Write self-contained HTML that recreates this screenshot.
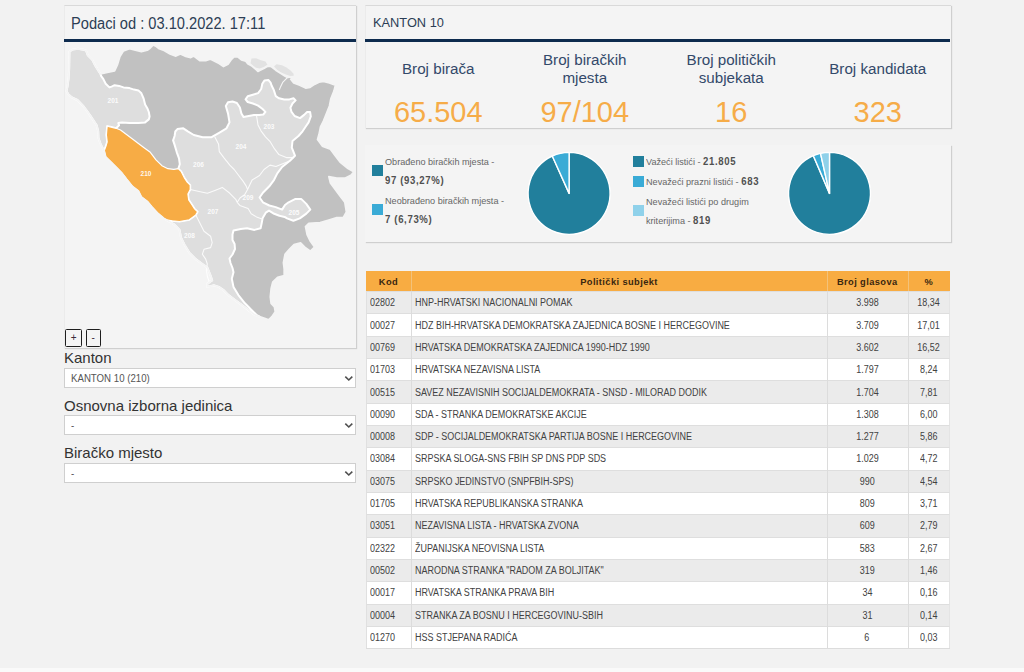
<!DOCTYPE html>
<html><head><meta charset="utf-8">
<style>
*{box-sizing:border-box}
html,body{margin:0;padding:0}
body{width:1024px;height:672px;background:#f2f2f2;position:relative;overflow:hidden;font-family:"Liberation Sans",sans-serif}
.panel{position:absolute;background:#f4f4f4;border-top:1px solid #d9d9d9;border-left:1px solid #ebebeb;box-shadow:1px 1px 1px #cfcfcf}
.abs{position:absolute;white-space:nowrap}
.hline{position:absolute;height:3px;background:#0d2b4e}
.th{position:absolute;background:#f8ac42}
.tht{position:absolute;text-align:center;font-weight:bold;font-size:9.3px;letter-spacing:0.4px;color:#3a2710}
.tr{position:absolute;left:365.5px;width:584.5px;border-top:1px solid #dedede;border-left:1px solid #e0e0e0;border-right:1px solid #e4e4e4}
.td{position:absolute;white-space:nowrap;font-size:10px;color:#424242}
.td span{display:inline-block;transform:scaleX(0.897);transform-origin:0 50%}
.tc span{transform-origin:50% 50%}
.vl{position:absolute;width:1px;background:#dcdcdc}
.lbl{position:absolute;font-size:15px;color:#333;white-space:nowrap}
.sel{position:absolute;left:64px;width:292px;height:20.3px;background:#fff;border:1px solid #cfcfcf}
.sel span{position:absolute;left:6px;top:3.9px;font-size:10.4px;color:#555;transform:scaleX(0.93);transform-origin:0 0}
.chev{position:absolute;right:2.5px;top:5.5px;width:9px;height:7px}
.btn{position:absolute;top:329.2px;width:16.8px;height:17.4px;border:1.6px solid #1e1e1e;border-radius:1.5px;background:#f4f4f4;font-size:10px;text-align:center;line-height:16px;color:#3a2a3a}
.st{position:absolute;width:146.5px;text-align:center;color:#33496a;font-size:15.2px;line-height:18px}
.sv{position:absolute;width:146.5px;text-align:center;color:#f6ac48;font-size:29px}
.lg{position:absolute;font-size:9.8px;color:#666;white-space:nowrap;transform:scaleX(0.93);transform-origin:0 0}
.lg b{color:#505050;letter-spacing:0.7px;font-size:10.3px}
.sq{position:absolute;width:11px;height:11px}
</style></head><body>
<div class="panel" style="left:64px;top:5px;width:292px;height:342.5px"></div>
<div class="abs" style="left:71.3px;top:14.5px;font-size:16px;color:#2c3e55;transform:scaleX(0.915);transform-origin:0 0">Podaci od : 03.10.2022. 17:11</div>
<div class="hline" style="left:64px;top:39px;width:292px"></div>
<svg style="position:absolute;left:0;top:0" width="1024" height="672" viewBox="0 0 1024 672"><polygon points="69.5,51.5 73.0,49.5 78.0,48.8 83.5,49.8 86.0,50.5 87.8,55.4 92.3,59.9 95.3,65.8 99.0,71.8 100.5,74.0 107.2,72.5 114.6,71.0 117.6,64.3 119.8,56.9 123.5,50.9 129.5,48.7 135.4,50.2 141.4,51.7 147.3,50.2 150.3,48.0 153.3,45.0 156.3,46.5 159.2,48.7 164.0,50.5 170.0,53.9 175.9,56.1 180.4,53.9 184.8,56.1 190.8,57.6 193.8,56.1 199.7,60.6 205.7,60.6 210.1,59.1 214.6,61.3 219.1,63.6 223.5,66.6 228.0,64.3 231.0,59.9 234.0,56.9 237.7,56.9 241.4,59.9 245.8,61.3 247.7,63.7 251.9,66.1 256.1,69.6 257.9,71.4 260.2,70.2 263.8,68.5 266.8,66.7 269.8,66.1 272.1,67.3 275.7,70.2 280.5,73.2 285.2,76.2 287.6,77.4 291.2,76.8 293.6,77.2 290.7,79.2 293.7,82.9 299.7,85.2 305.6,88.1 310.1,87.4 314.5,84.4 319.0,82.2 323.5,81.4 329.4,82.9 335.4,85.2 333.9,91.1 330.9,98.5 329.4,106.0 326.5,113.4 323.5,120.9 320.5,126.8 319.0,134.3 317.5,139.6 322.3,146.1 330.4,149.3 335.2,155.7 340.0,162.1 348.0,168.6 353.7,171.8 351.3,175.0 344.8,178.2 336.8,178.2 328.8,176.6 330.4,183.0 335.2,189.5 340.0,195.9 344.8,202.3 346.4,212.0 343.2,217.6 336.8,217.6 328.8,220.0 320.2,222.5 308.8,223.3 305.5,226.5 307.1,234.7 310.4,241.3 314.5,247.0 310.4,251.1 305.5,247.8 300.6,242.9 294.0,244.6 289.1,249.5 285.0,254.4 283.4,262.6 284.2,269.1 284.2,275.7 277.6,277.3 272.7,282.2 271.1,288.8 270.3,296.9 271.1,303.5 274.4,306.8 275.2,311.7 271.9,316.6 268.6,319.9 264.6,318.2 259.6,316.6 254.7,314.9 248.2,309.9 241.7,304.9 235.1,300.0 228.6,295.1 223.7,290.2 218.8,286.9 213.8,285.3 207.3,286.9 207.3,283.7 212.2,280.4 210.6,275.5 207.3,267.3 202.4,264.0 195.8,259.1 189.3,252.6 184.4,244.4 181.1,237.8 179.5,229.6 174.6,224.7 166.4,219.8 164.0,218.5 158.0,213.5 152.0,207.0 147.3,201.4 141.4,197.0 138.4,191.0 132.5,186.5 126.5,179.1 122.0,173.2 117.6,168.7 111.6,162.7 105.7,156.8 104.2,150.8 101.0,145.0 98.5,138.0 98.2,131.3 96.7,125.3 93.8,120.9 90.8,116.4 87.8,112.0 83.3,106.0 77.5,100.0 72.0,97.5 68.5,94.5 66.5,91.1 67.5,86.6 68.5,79.2 69.2,68.8 69.3,61.0" fill="#c1c1c1"/><polygon points="250.5,63.2 251.5,58.6 256.0,58.3 261.0,60.2 265.5,61.5 267.4,64.8 263.8,67.0 259.5,68.5 256.0,67.8 253.0,65.6" fill="#e2e2e2"/><polygon points="274.0,66.5 276.5,64.3 282.0,65.2 286.5,67.6 290.5,70.5 293.6,73.8 293.6,75.8 290.5,76.0 286.0,74.6 281.0,72.4 277.0,69.8" fill="#e2e2e2"/><polygon points="69.5,51.5 73.0,49.5 78.0,48.8 83.5,49.8 86.0,50.5 87.8,55.4 92.3,59.9 95.3,65.8 99.0,71.8 100.5,74.0 101.2,76.2 103.4,79.2 105.7,83.7 109.4,87.4 111.6,86.6 114.6,85.2 119.1,85.9 123.5,87.4 129.5,88.1 134.0,89.6 138.4,90.4 141.4,93.3 143.6,98.5 145.1,104.5 147.3,108.2 148.8,112.0 149.6,116.4 148.8,119.4 145.1,122.4 138.4,123.1 129.5,123.1 122.0,122.4 118.3,123.1 119.1,125.3 116.1,128.3 110.1,126.8 107.2,126.1 106.4,135.0 107.2,141.9 104.2,150.8 101.0,145.0 98.5,138.0 98.2,131.3 96.7,125.3 93.8,120.9 90.8,116.4 87.8,112.0 83.3,106.0 77.5,100.0 72.0,97.5 68.5,94.5 66.5,91.1 67.5,86.6 68.5,79.2 69.2,68.8 69.3,61.0" fill="#dedede" stroke="#fff" stroke-width="2" stroke-linejoin="round"/><polygon points="178.3,168.7 179.8,164.2 179.0,158.3 176.8,152.3 174.6,144.9 173.1,140.4 174.6,136.0 175.3,131.5 177.4,129.1 183.3,128.3 187.8,131.3 193.8,135.0 202.7,137.2 211.6,137.2 219.1,132.8 226.5,128.3 229.5,122.4 228.0,113.4 225.8,106.0 228.0,102.3 232.5,101.5 236.9,103.0 239.9,107.5 241.4,113.4 243.5,117.1 248.8,116.0 254.0,115.0 259.2,115.0 263.3,114.5 265.4,111.9 262.3,108.8 258.1,105.6 252.9,103.5 247.7,102.0 245.6,99.4 247.7,96.2 252.9,94.7 258.1,93.1 261.2,89.0 262.3,83.8 264.4,80.6 268.5,80.1 270.6,82.7 271.7,85.8 273.8,90.0 274.8,93.1 275.8,96.2 279.0,98.3 284.2,99.4 289.4,99.4 293.5,98.3 295.6,100.4 292.5,103.5 290.4,107.7 291.5,111.9 294.6,116.0 300.0,118.1 304.1,114.9 307.1,112.0 310.1,112.0 310.8,116.4 308.6,122.4 305.6,126.8 302.6,131.3 298.5,136.0 292.5,141.0 291.8,147.7 295.0,155.7 290.2,160.5 282.1,167.0 277.3,173.4 274.1,179.8 269.3,186.3 262.9,192.7 259.6,197.5 262.9,202.3 269.3,205.5 275.7,207.1 282.1,209.6 285.0,205.0 288.6,202.3 295.0,199.1 301.4,199.1 306.3,203.9 310.3,209.6 306.3,213.6 299.8,218.4 293.4,220.8 287.0,218.4 284.6,216.9 279.4,215.8 274.2,213.8 269.0,210.6 265.8,212.7 262.7,217.9 261.7,223.1 260.6,228.3 254.4,229.9 247.1,228.3 240.8,228.9 233.5,230.4 232.5,234.6 232.5,240.0 234.6,244.0 235.0,249.0 232.5,254.5 229.5,258.5 230.5,263.0 232.5,268.0 233.5,272.2 231.8,278.8 233.5,286.9 238.4,295.1 244.9,303.3 251.5,309.9 256.4,314.8 259.6,316.6 254.7,314.9 248.2,309.9 241.7,304.9 235.1,300.0 228.6,295.1 223.7,290.2 218.8,286.9 213.8,285.3 207.3,286.9 207.3,283.7 212.2,280.4 210.6,275.5 207.3,267.3 202.4,264.0 195.8,259.1 189.3,252.6 184.4,244.4 181.1,237.8 179.5,229.6 174.6,224.7 166.4,219.8 172.3,220.8 179.5,221.5 189.3,219.8 195.8,214.9 197.6,211.8 194.6,208.9 191.7,204.4 188.7,199.9 187.9,194.0 190.2,189.5 190.2,185.1 187.2,182.1 184.2,177.6 181.3,171.7" fill="#dedede" stroke="#fff" stroke-width="2" stroke-linejoin="round"/><polyline points="214.6,136.5 218.6,144.2 219.3,151.7 223.8,157.6 229.8,165.1 234.2,169.5 238.7,175.5 243.2,181.4 246.1,185.9 247.6,189.5" fill="none" stroke="#fff" stroke-opacity="0.85" stroke-width="1.1" stroke-linejoin="round"/><polyline points="247.6,189.5 252.1,180.0 259.5,175.5 264.0,169.5 270.0,165.1 275.9,166.5 283.3,163.6 290.8,160.6" fill="none" stroke="#fff" stroke-opacity="0.85" stroke-width="1.1" stroke-linejoin="round"/><polyline points="256.5,115.5 258.0,124.9 261.0,130.8 265.5,136.8 269.9,141.3 274.4,148.7 278.9,154.6 286.3,157.6 293.8,157.6" fill="none" stroke="#fff" stroke-opacity="0.85" stroke-width="1.1" stroke-linejoin="round"/><polyline points="190.2,189.5 199.1,191.5 207.4,193.3 214.9,190.4 222.3,187.4 229.8,193.3 235.7,199.3 237.2,202.3 239.8,205.4 248.1,208.5 251.2,213.8 256.5,216.9 262.0,219.0" fill="none" stroke="#fff" stroke-opacity="0.85" stroke-width="1.1" stroke-linejoin="round"/><polyline points="247.6,189.5 244.6,194.8 240.2,197.8 237.2,202.3" fill="none" stroke="#fff" stroke-opacity="0.85" stroke-width="1.1" stroke-linejoin="round"/><polyline points="195.8,214.9 204.0,231.3 210.6,236.2 212.2,242.7 210.6,247.6 204.0,249.3 202.4,254.2 205.7,259.1 207.3,264.0 206.3,270.0 207.5,277.0 210.0,283.5" fill="none" stroke="#fff" stroke-opacity="0.85" stroke-width="1.1" stroke-linejoin="round"/><polyline points="287.6,77.4 282.9,82.1 280.5,86.9 279.3,90.0" fill="none" stroke="#fff" stroke-opacity="0.85" stroke-width="1.1" stroke-linejoin="round"/><polygon points="107.2,126.1 110.1,126.8 116.1,128.3 120.5,130.0 126.5,134.5 132.5,138.9 138.4,143.4 144.4,147.9 150.3,152.3 156.0,159.8 161.9,165.7 167.9,168.7 173.8,169.4 178.3,168.7 181.3,171.7 184.2,177.6 187.2,182.1 190.2,185.1 190.2,189.5 187.9,194.0 188.7,199.9 191.7,204.4 194.6,208.9 197.6,211.8 195.8,214.9 189.3,219.8 179.5,221.5 172.3,220.8 166.4,219.8 164.0,218.5 158.0,213.5 152.0,207.0 147.3,201.4 141.4,197.0 138.4,191.0 132.5,186.5 126.5,179.1 122.0,173.2 117.6,168.7 111.6,162.7 105.7,156.8 104.2,150.8 106.0,146.0 107.2,141.9 106.4,135.0 106.8,130.0" fill="#f7ac45" stroke="#fff" stroke-width="1.2" stroke-linejoin="round"/><polygon points="69.5,51.5 73.0,49.5 78.0,48.8 83.5,49.8 86.0,50.5 87.8,55.4 92.3,59.9 95.3,65.8 99.0,71.8 100.5,74.0 107.2,72.5 114.6,71.0 117.6,64.3 119.8,56.9 123.5,50.9 129.5,48.7 135.4,50.2 141.4,51.7 147.3,50.2 150.3,48.0 153.3,45.0 156.3,46.5 159.2,48.7 164.0,50.5 170.0,53.9 175.9,56.1 180.4,53.9 184.8,56.1 190.8,57.6 193.8,56.1 199.7,60.6 205.7,60.6 210.1,59.1 214.6,61.3 219.1,63.6 223.5,66.6 228.0,64.3 231.0,59.9 234.0,56.9 237.7,56.9 241.4,59.9 245.8,61.3 247.7,63.7 251.9,66.1 256.1,69.6 257.9,71.4 260.2,70.2 263.8,68.5 266.8,66.7 269.8,66.1 272.1,67.3 275.7,70.2 280.5,73.2 285.2,76.2 287.6,77.4 291.2,76.8 293.6,77.2 290.7,79.2 293.7,82.9 299.7,85.2 305.6,88.1 310.1,87.4 314.5,84.4 319.0,82.2 323.5,81.4 329.4,82.9 335.4,85.2 333.9,91.1 330.9,98.5 329.4,106.0 326.5,113.4 323.5,120.9 320.5,126.8 319.0,134.3 317.5,139.6 322.3,146.1 330.4,149.3 335.2,155.7 340.0,162.1 348.0,168.6 353.7,171.8 351.3,175.0 344.8,178.2 336.8,178.2 328.8,176.6 330.4,183.0 335.2,189.5 340.0,195.9 344.8,202.3 346.4,212.0 343.2,217.6 336.8,217.6 328.8,220.0 320.2,222.5 308.8,223.3 305.5,226.5 307.1,234.7 310.4,241.3 314.5,247.0 310.4,251.1 305.5,247.8 300.6,242.9 294.0,244.6 289.1,249.5 285.0,254.4 283.4,262.6 284.2,269.1 284.2,275.7 277.6,277.3 272.7,282.2 271.1,288.8 270.3,296.9 271.1,303.5 274.4,306.8 275.2,311.7 271.9,316.6 268.6,319.9 264.6,318.2 259.6,316.6 254.7,314.9 248.2,309.9 241.7,304.9 235.1,300.0 228.6,295.1 223.7,290.2 218.8,286.9 213.8,285.3 207.3,286.9 207.3,283.7 212.2,280.4 210.6,275.5 207.3,267.3 202.4,264.0 195.8,259.1 189.3,252.6 184.4,244.4 181.1,237.8 179.5,229.6 174.6,224.7 166.4,219.8 164.0,218.5 158.0,213.5 152.0,207.0 147.3,201.4 141.4,197.0 138.4,191.0 132.5,186.5 126.5,179.1 122.0,173.2 117.6,168.7 111.6,162.7 105.7,156.8 104.2,150.8 101.0,145.0 98.5,138.0 98.2,131.3 96.7,125.3 93.8,120.9 90.8,116.4 87.8,112.0 83.3,106.0 77.5,100.0 72.0,97.5 68.5,94.5 66.5,91.1 67.5,86.6 68.5,79.2 69.2,68.8 69.3,61.0" fill="none" stroke="#f4f4f4" stroke-width="1.7" stroke-linejoin="round"/><text x="113" y="102.8" text-anchor="middle" font-size="6.5" font-weight="bold" font-family="Liberation Sans" fill="#fff" fill-opacity="0.92">201</text><text x="146" y="175.8" text-anchor="middle" font-size="6.5" font-weight="bold" font-family="Liberation Sans" fill="#fff" fill-opacity="0.92">210</text><text x="198.5" y="166.8" text-anchor="middle" font-size="6.5" font-weight="bold" font-family="Liberation Sans" fill="#fff" fill-opacity="0.92">206</text><text x="241" y="148.8" text-anchor="middle" font-size="6.5" font-weight="bold" font-family="Liberation Sans" fill="#fff" fill-opacity="0.92">204</text><text x="269" y="128.8" text-anchor="middle" font-size="6.5" font-weight="bold" font-family="Liberation Sans" fill="#fff" fill-opacity="0.92">203</text><text x="248" y="200.3" text-anchor="middle" font-size="6.5" font-weight="bold" font-family="Liberation Sans" fill="#fff" fill-opacity="0.92">209</text><text x="294" y="215.3" text-anchor="middle" font-size="6.5" font-weight="bold" font-family="Liberation Sans" fill="#fff" fill-opacity="0.92">205</text><text x="213" y="214.3" text-anchor="middle" font-size="6.5" font-weight="bold" font-family="Liberation Sans" fill="#fff" fill-opacity="0.92">207</text><text x="189.5" y="238.3" text-anchor="middle" font-size="6.5" font-weight="bold" font-family="Liberation Sans" fill="#fff" fill-opacity="0.92">208</text></svg>
<div class="btn" style="left:65.3px;">+</div>
<div class="btn" style="left:85.5px;width:15.4px">-</div>

<div class="lbl" style="left:64px;top:349px">Kanton</div>
<div class="sel" style="top:368px"><span>KANTON 10 (210)</span><svg class="chev" viewBox="0 0 9 7"><path d="M1.3 1.6 L4.8 5 L8.3 1.6" fill="none" stroke="#505050" stroke-width="1.6"/></svg></div>
<div class="lbl" style="left:64px;top:397px">Osnovna izborna jedinica</div>
<div class="sel" style="top:415px"><span>-</span><svg class="chev" viewBox="0 0 9 7"><path d="M1.3 1.6 L4.8 5 L8.3 1.6" fill="none" stroke="#505050" stroke-width="1.6"/></svg></div>
<div class="lbl" style="left:64px;top:444.3px">Biračko mjesto</div>
<div class="sel" style="top:463px"><span>-</span><svg class="chev" viewBox="0 0 9 7"><path d="M1.3 1.6 L4.8 5 L8.3 1.6" fill="none" stroke="#505050" stroke-width="1.6"/></svg></div>

<div class="panel" style="left:365px;top:5px;width:586px;height:123px"></div>
<div class="abs" style="left:373px;top:15px;font-size:12.8px;color:#2c3e55">KANTON 10</div>
<div class="hline" style="left:365px;top:39px;width:585px"></div>
<div class="st" style="left:365px;top:60px">Broj birača</div>
<div class="st" style="left:511.5px;top:51px">Broj biračkih<br>mjesta</div>
<div class="st" style="left:658px;top:51px">Broj političkih<br>subjekata</div>
<div class="st" style="left:804.5px;top:60px">Broj kandidata</div>
<div class="sv" style="left:365px;top:96px">65.504</div>
<div class="sv" style="left:511.5px;top:96px">97/104</div>
<div class="sv" style="left:658px;top:96px">16</div>
<div class="sv" style="left:804.5px;top:96px">323</div>

<div class="panel" style="left:365px;top:145px;width:586px;height:97px;border-top:none;border-left:none"></div>
<div class="sq" style="left:372px;top:165px;background:#217f9c"></div>
<div class="lg" style="left:385px;top:155.8px">Obrađeno biračkih mjesta -</div>
<div class="lg" style="left:385px;top:174.5px"><b>97 (93,27%)</b></div>
<div class="sq" style="left:372px;top:204px;background:#3aabd6"></div>
<div class="lg" style="left:385px;top:194.8px">Neobrađeno biračkih mjesta -</div>
<div class="lg" style="left:385px;top:213.5px"><b>7 (6,73%)</b></div>
<svg style="position:absolute;left:0;top:0" width="1024" height="672"><path d="M569.1,193.4 L569.10,152.40 A41,41 0 1 1 552.27,156.01 Z" fill="#217f9c" stroke="#fff" stroke-width="1.4" stroke-linejoin="round"/><path d="M569.1,193.4 L552.27,156.01 A41,41 0 0 1 569.10,152.40 Z" fill="#3aabd6" stroke="#fff" stroke-width="1.4" stroke-linejoin="round"/><path d="M829.5,193.4 L829.50,152.40 A41,41 0 1 1 813.35,155.72 Z" fill="#217f9c" stroke="#fff" stroke-width="1.4" stroke-linejoin="round"/><path d="M829.5,193.4 L813.35,155.72 A41,41 0 0 1 820.52,153.40 Z" fill="#3aabd6" stroke="#fff" stroke-width="1.4" stroke-linejoin="round"/><path d="M829.5,193.4 L820.52,153.40 A41,41 0 0 1 829.50,152.40 Z" fill="#8fd1ea" stroke="#fff" stroke-width="1.4" stroke-linejoin="round"/></svg>
<div class="sq" style="left:632.5px;top:156px;background:#217f9c"></div>
<div class="lg" style="left:646px;top:155.8px">Važeći listići - <b>21.805</b></div>
<div class="sq" style="left:632.5px;top:176px;background:#3aabd6"></div>
<div class="lg" style="left:646px;top:176.3px">Nevažeći prazni listići - <b>683</b></div>
<div class="sq" style="left:632.5px;top:205px;background:#8fd1ea"></div>
<div class="lg" style="left:646px;top:195.8px">Nevažeći listići po drugim</div>
<div class="lg" style="left:646px;top:214.5px">kriterijima - <b>819</b></div>

<div class="th" style="left:366px;top:271px;width:584px;height:20px"></div>
<div class="tht" style="left:366px;top:272px;width:45px;height:20px;line-height:20px">Kod</div>
<div class="tht" style="left:411px;top:272px;width:416px;height:20px;line-height:20px">Politički subjekt</div>
<div class="tht" style="left:827px;top:272px;width:80.5px;height:20px;line-height:20px">Broj glasova</div>
<div class="tht" style="left:907.5px;top:272px;width:42.5px;height:20px;line-height:20px">%</div>
<div class="vl" style="left:411px;top:271px;height:20px;background:#f3c27a"></div>
<div class="vl" style="left:827px;top:271px;height:20px;background:#f3c27a"></div>
<div class="vl" style="left:907.5px;top:271px;height:20px;background:#f3c27a"></div>
<div class="tr" style="top:291.00px;height:22.33px;background:#ebebeb"></div>
<div class="td" style="left:369.8px;top:292.20px;height:22.33px;line-height:22.33px"><span>02802</span></div>
<div class="td" style="left:415px;top:292.20px;height:22.33px;line-height:22.33px"><span>HNP-HRVATSKI NACIONALNI POMAK</span></div>
<div class="td tc" style="left:827px;width:80.5px;text-align:center;top:292.20px;height:22.33px;line-height:22.33px"><span>3.998</span></div>
<div class="td tc" style="left:907.5px;width:42.5px;text-align:center;top:292.20px;height:22.33px;line-height:22.33px"><span>18,34</span></div>
<div class="tr" style="top:313.32px;height:22.33px;background:#ffffff"></div>
<div class="td" style="left:369.8px;top:314.52px;height:22.33px;line-height:22.33px"><span>00027</span></div>
<div class="td" style="left:415px;top:314.52px;height:22.33px;line-height:22.33px"><span>HDZ BIH-HRVATSKA DEMOKRATSKA ZAJEDNICA BOSNE I HERCEGOVINE</span></div>
<div class="td tc" style="left:827px;width:80.5px;text-align:center;top:314.52px;height:22.33px;line-height:22.33px"><span>3.709</span></div>
<div class="td tc" style="left:907.5px;width:42.5px;text-align:center;top:314.52px;height:22.33px;line-height:22.33px"><span>17,01</span></div>
<div class="tr" style="top:335.65px;height:22.33px;background:#ebebeb"></div>
<div class="td" style="left:369.8px;top:336.85px;height:22.33px;line-height:22.33px"><span>00769</span></div>
<div class="td" style="left:415px;top:336.85px;height:22.33px;line-height:22.33px"><span>HRVATSKA DEMOKRATSKA ZAJEDNICA 1990-HDZ 1990</span></div>
<div class="td tc" style="left:827px;width:80.5px;text-align:center;top:336.85px;height:22.33px;line-height:22.33px"><span>3.602</span></div>
<div class="td tc" style="left:907.5px;width:42.5px;text-align:center;top:336.85px;height:22.33px;line-height:22.33px"><span>16,52</span></div>
<div class="tr" style="top:357.98px;height:22.33px;background:#ffffff"></div>
<div class="td" style="left:369.8px;top:359.18px;height:22.33px;line-height:22.33px"><span>01703</span></div>
<div class="td" style="left:415px;top:359.18px;height:22.33px;line-height:22.33px"><span>HRVATSKA NEZAVISNA LISTA</span></div>
<div class="td tc" style="left:827px;width:80.5px;text-align:center;top:359.18px;height:22.33px;line-height:22.33px"><span>1.797</span></div>
<div class="td tc" style="left:907.5px;width:42.5px;text-align:center;top:359.18px;height:22.33px;line-height:22.33px"><span>8,24</span></div>
<div class="tr" style="top:380.30px;height:22.33px;background:#ebebeb"></div>
<div class="td" style="left:369.8px;top:381.50px;height:22.33px;line-height:22.33px"><span>00515</span></div>
<div class="td" style="left:415px;top:381.50px;height:22.33px;line-height:22.33px"><span>SAVEZ NEZAVISNIH SOCIJALDEMOKRATA - SNSD - MILORAD DODIK</span></div>
<div class="td tc" style="left:827px;width:80.5px;text-align:center;top:381.50px;height:22.33px;line-height:22.33px"><span>1.704</span></div>
<div class="td tc" style="left:907.5px;width:42.5px;text-align:center;top:381.50px;height:22.33px;line-height:22.33px"><span>7,81</span></div>
<div class="tr" style="top:402.62px;height:22.33px;background:#ffffff"></div>
<div class="td" style="left:369.8px;top:403.82px;height:22.33px;line-height:22.33px"><span>00090</span></div>
<div class="td" style="left:415px;top:403.82px;height:22.33px;line-height:22.33px"><span>SDA - STRANKA DEMOKRATSKE AKCIJE</span></div>
<div class="td tc" style="left:827px;width:80.5px;text-align:center;top:403.82px;height:22.33px;line-height:22.33px"><span>1.308</span></div>
<div class="td tc" style="left:907.5px;width:42.5px;text-align:center;top:403.82px;height:22.33px;line-height:22.33px"><span>6,00</span></div>
<div class="tr" style="top:424.95px;height:22.33px;background:#ebebeb"></div>
<div class="td" style="left:369.8px;top:426.15px;height:22.33px;line-height:22.33px"><span>00008</span></div>
<div class="td" style="left:415px;top:426.15px;height:22.33px;line-height:22.33px"><span>SDP - SOCIJALDEMOKRATSKA PARTIJA BOSNE I HERCEGOVINE</span></div>
<div class="td tc" style="left:827px;width:80.5px;text-align:center;top:426.15px;height:22.33px;line-height:22.33px"><span>1.277</span></div>
<div class="td tc" style="left:907.5px;width:42.5px;text-align:center;top:426.15px;height:22.33px;line-height:22.33px"><span>5,86</span></div>
<div class="tr" style="top:447.28px;height:22.33px;background:#ffffff"></div>
<div class="td" style="left:369.8px;top:448.48px;height:22.33px;line-height:22.33px"><span>03084</span></div>
<div class="td" style="left:415px;top:448.48px;height:22.33px;line-height:22.33px"><span>SRPSKA SLOGA-SNS FBIH SP DNS PDP SDS</span></div>
<div class="td tc" style="left:827px;width:80.5px;text-align:center;top:448.48px;height:22.33px;line-height:22.33px"><span>1.029</span></div>
<div class="td tc" style="left:907.5px;width:42.5px;text-align:center;top:448.48px;height:22.33px;line-height:22.33px"><span>4,72</span></div>
<div class="tr" style="top:469.60px;height:22.33px;background:#ebebeb"></div>
<div class="td" style="left:369.8px;top:470.80px;height:22.33px;line-height:22.33px"><span>03075</span></div>
<div class="td" style="left:415px;top:470.80px;height:22.33px;line-height:22.33px"><span>SRPSKO JEDINSTVO (SNPFBIH-SPS)</span></div>
<div class="td tc" style="left:827px;width:80.5px;text-align:center;top:470.80px;height:22.33px;line-height:22.33px"><span>990</span></div>
<div class="td tc" style="left:907.5px;width:42.5px;text-align:center;top:470.80px;height:22.33px;line-height:22.33px"><span>4,54</span></div>
<div class="tr" style="top:491.93px;height:22.33px;background:#ffffff"></div>
<div class="td" style="left:369.8px;top:493.12px;height:22.33px;line-height:22.33px"><span>01705</span></div>
<div class="td" style="left:415px;top:493.12px;height:22.33px;line-height:22.33px"><span>HRVATSKA REPUBLIKANSKA STRANKA</span></div>
<div class="td tc" style="left:827px;width:80.5px;text-align:center;top:493.12px;height:22.33px;line-height:22.33px"><span>809</span></div>
<div class="td tc" style="left:907.5px;width:42.5px;text-align:center;top:493.12px;height:22.33px;line-height:22.33px"><span>3,71</span></div>
<div class="tr" style="top:514.25px;height:22.33px;background:#ebebeb"></div>
<div class="td" style="left:369.8px;top:515.45px;height:22.33px;line-height:22.33px"><span>03051</span></div>
<div class="td" style="left:415px;top:515.45px;height:22.33px;line-height:22.33px"><span>NEZAVISNA LISTA - HRVATSKA ZVONA</span></div>
<div class="td tc" style="left:827px;width:80.5px;text-align:center;top:515.45px;height:22.33px;line-height:22.33px"><span>609</span></div>
<div class="td tc" style="left:907.5px;width:42.5px;text-align:center;top:515.45px;height:22.33px;line-height:22.33px"><span>2,79</span></div>
<div class="tr" style="top:536.58px;height:22.33px;background:#ffffff"></div>
<div class="td" style="left:369.8px;top:537.78px;height:22.33px;line-height:22.33px"><span>02322</span></div>
<div class="td" style="left:415px;top:537.78px;height:22.33px;line-height:22.33px"><span>ŽUPANIJSKA NEOVISNA LISTA</span></div>
<div class="td tc" style="left:827px;width:80.5px;text-align:center;top:537.78px;height:22.33px;line-height:22.33px"><span>583</span></div>
<div class="td tc" style="left:907.5px;width:42.5px;text-align:center;top:537.78px;height:22.33px;line-height:22.33px"><span>2,67</span></div>
<div class="tr" style="top:558.90px;height:22.33px;background:#ebebeb"></div>
<div class="td" style="left:369.8px;top:560.10px;height:22.33px;line-height:22.33px"><span>00502</span></div>
<div class="td" style="left:415px;top:560.10px;height:22.33px;line-height:22.33px"><span>NARODNA STRANKA "RADOM ZA BOLJITAK"</span></div>
<div class="td tc" style="left:827px;width:80.5px;text-align:center;top:560.10px;height:22.33px;line-height:22.33px"><span>319</span></div>
<div class="td tc" style="left:907.5px;width:42.5px;text-align:center;top:560.10px;height:22.33px;line-height:22.33px"><span>1,46</span></div>
<div class="tr" style="top:581.23px;height:22.33px;background:#ffffff"></div>
<div class="td" style="left:369.8px;top:582.43px;height:22.33px;line-height:22.33px"><span>00017</span></div>
<div class="td" style="left:415px;top:582.43px;height:22.33px;line-height:22.33px"><span>HRVATSKA STRANKA PRAVA BIH</span></div>
<div class="td tc" style="left:827px;width:80.5px;text-align:center;top:582.43px;height:22.33px;line-height:22.33px"><span>34</span></div>
<div class="td tc" style="left:907.5px;width:42.5px;text-align:center;top:582.43px;height:22.33px;line-height:22.33px"><span>0,16</span></div>
<div class="tr" style="top:603.55px;height:22.33px;background:#ebebeb"></div>
<div class="td" style="left:369.8px;top:604.75px;height:22.33px;line-height:22.33px"><span>00004</span></div>
<div class="td" style="left:415px;top:604.75px;height:22.33px;line-height:22.33px"><span>STRANKA ZA BOSNU I HERCEGOVINU-SBIH</span></div>
<div class="td tc" style="left:827px;width:80.5px;text-align:center;top:604.75px;height:22.33px;line-height:22.33px"><span>31</span></div>
<div class="td tc" style="left:907.5px;width:42.5px;text-align:center;top:604.75px;height:22.33px;line-height:22.33px"><span>0,14</span></div>
<div class="tr" style="top:625.88px;height:22.33px;background:#ffffff"></div>
<div class="td" style="left:369.8px;top:627.08px;height:22.33px;line-height:22.33px"><span>01270</span></div>
<div class="td" style="left:415px;top:627.08px;height:22.33px;line-height:22.33px"><span>HSS STJEPANA RADIĆA</span></div>
<div class="td tc" style="left:827px;width:80.5px;text-align:center;top:627.08px;height:22.33px;line-height:22.33px"><span>6</span></div>
<div class="td tc" style="left:907.5px;width:42.5px;text-align:center;top:627.08px;height:22.33px;line-height:22.33px"><span>0,03</span></div>
<div class="vl" style="left:411px;top:291px;height:357.2px"></div>
<div class="vl" style="left:827px;top:291px;height:357.2px"></div>
<div class="vl" style="left:907.5px;top:291px;height:357.2px"></div>
<div style="position:absolute;left:365.5px;width:584.5px;top:647.8px;height:1px;background:#dcdcdc"></div>
<div style="position:absolute;left:0;top:667.5px;width:1024px;height:5px;background:#fafafa"></div>
</body></html>
